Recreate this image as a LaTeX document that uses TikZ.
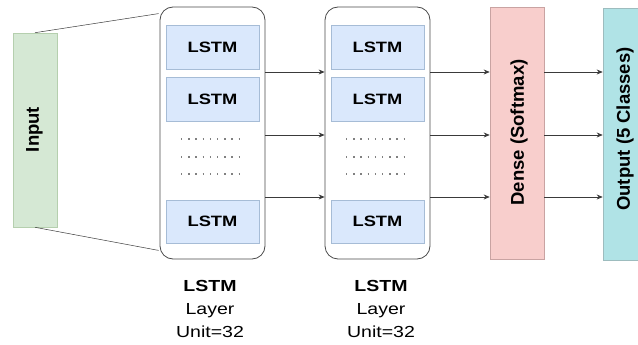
\documentclass[tikz,border=0pt]{standalone}
\usepackage{fontspec}
\setmainfont{Liberation Sans}
\newfontfamily\widefont[FakeStretch=1.22]{Liberation Sans}
\usetikzlibrary{arrows.meta,calc}

\definecolor{inputfill}{HTML}{D5E8D4}
\definecolor{inputline}{HTML}{B5CFAE}
\definecolor{cellfill}{HTML}{DAE8FC}
\definecolor{cellline}{HTML}{A6BCD6}
\definecolor{densefill}{HTML}{F8CECC}
\definecolor{denseline}{HTML}{C9A3A2}
\definecolor{outfill}{HTML}{B0E3E6}
\definecolor{outline}{HTML}{9DBCBE}
\definecolor{frameline}{HTML}{4A4A4A}
\definecolor{wireline}{HTML}{3A3A3A}
\definecolor{dotgray}{HTML}{808080}

\tikzset{
  layerframe/.style={draw=frameline, line width=0.8pt, fill=white,
    rounded corners=13pt, minimum width=105pt, minimum height=252pt, inner sep=0pt},
  cell/.style={draw=cellline, line width=0.6pt, fill=cellfill,
    minimum width=93pt, inner sep=0pt,
    font=\widefont\fontsize{15}{18}\selectfont\bfseries},
  vbar/.style={line width=0.6pt, minimum height=252pt, inner sep=0pt},
  vtext/.style={rotate=90, inner sep=0pt,
    font=\fontsize{18.5}{21}\selectfont\bfseries},
  wire/.style={draw=wireline, line width=0.7pt,
    -{Stealth[length=6pt,width=5pt]}},
  fan/.style={draw=wireline, line width=0.5pt},
  dots/.style={draw=dotgray, line width=1.5pt,
    dash pattern=on 1.4pt off 5.8pt},
  caption/.style={align=center, anchor=north, inner sep=0pt,
    font=\widefont\fontsize{16}{23}\selectfont},
}

\begin{document}
\begin{tikzpicture}[x=1pt, y=-1pt]
  \useasboundingbox (0,0) rectangle (638,345);
  \begin{scope}
  \clip (0,0) rectangle (638,345);

  % input block
  \node[draw=inputline, line width=0.6pt, fill=inputfill, minimum width=44pt,
        minimum height=194pt, inner sep=0pt] (inp) at (35,130) {};
  \node[vtext] (inptxt) at (34.5,129.5) {Input};

  % first LSTM layer
  \node[layerframe] (c1) at (212.5,133) {};
  \node[cell, minimum height=44pt] (a1) at (212.5,47) {LSTM};
  \node[cell, minimum height=44pt] (a2) at (212.5,99) {LSTM};
  \node[cell, minimum height=43pt] (a3) at (212.5,221.5) {LSTM};

  % second LSTM layer
  \node[layerframe] (c2) at (377.5,133) {};
  \node[cell, minimum height=44pt] (b1) at (377.5,47) {LSTM};
  \node[cell, minimum height=44pt] (b2) at (377.5,99) {LSTM};
  \node[cell, minimum height=43pt] (b3) at (377.5,221.5) {LSTM};

  % dense and output blocks
  \node[vbar, draw=denseline, fill=densefill, minimum width=54pt] (dense) at (517,133) {};
  \node[vtext] (densetxt) at (519,132.5) {Dense (Softmax)};
  \node[vbar, draw=outline, fill=outfill, minimum width=46pt] (out) at (626,134) {};
  \node[vtext] (outtxt) at (625,129) {Output (5 Classes)};

  % ellipsis rows between the cells
  \foreach \yy in {139,157,174} {
    \draw[dots] (181,\yy) -- (243,\yy);
    \draw[dots] (346,\yy) -- (408,\yy);
  }

  % fan-in lines from the input to the first layer
  \draw[fan] (inp.north) -- ($(c1.north west)+(-1,7)$);
  \draw[fan] (inp.south) -- ($(c1.south west)+(-1,-9)$);

  % row connectors
  \coordinate (r1) at (0,72);
  \coordinate (r2) at (0,135);
  \coordinate (r3) at (0,197);
  \foreach \r in {r1,r2,r3} {
    \draw[wire] (c1.east |- \r) -- (c2.west |- \r);
    \draw[wire] (c2.east |- \r) -- (dense.west |- \r);
    \draw[wire] (dense.east |- \r) -- (out.west |- \r);
  }
  \end{scope}

  % layer captions
  \node[caption] (cap1) at (210,280.5) {{\bfseries LSTM}\\Layer\\Unit=32};
  \node[caption] (cap2) at (381,280.5) {{\bfseries LSTM}\\Layer\\Unit=32};
\end{tikzpicture}
\end{document}
